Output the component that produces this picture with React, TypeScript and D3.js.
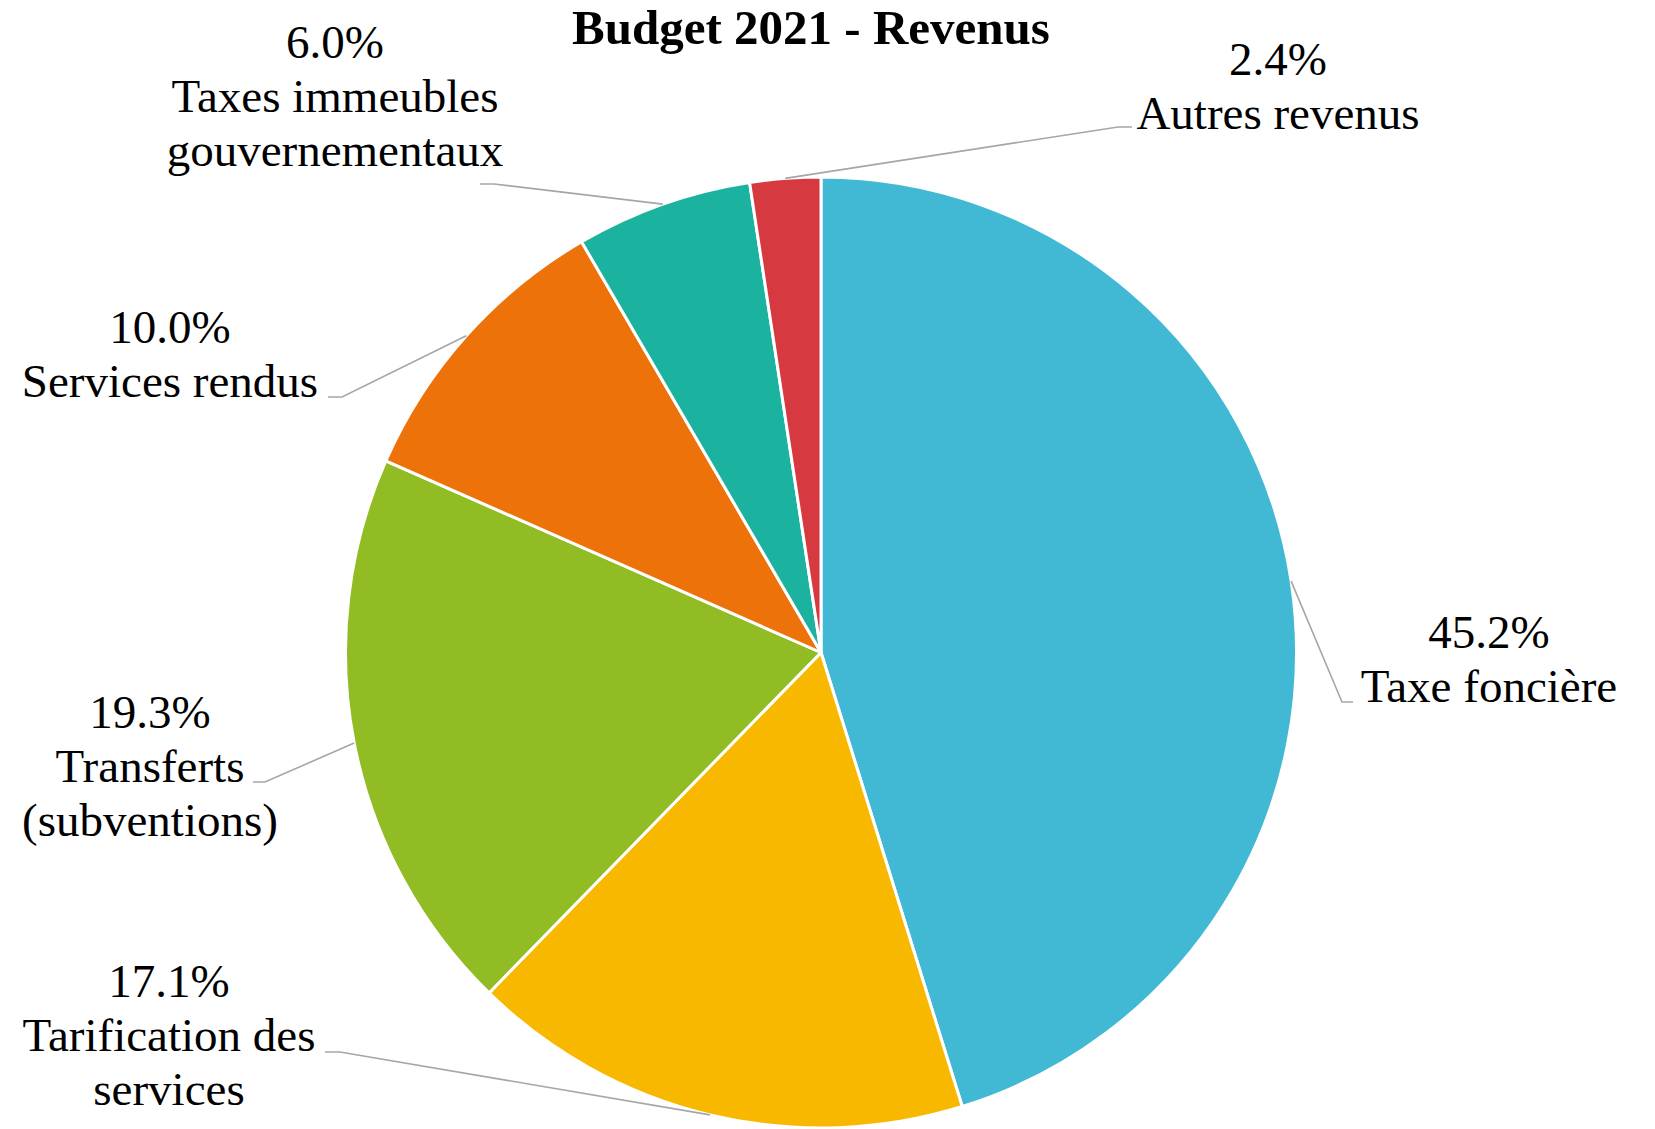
import React from "react";
import * as d3 from "d3";

const categories = [
  "Taxe foncière",
  "Tarification des services",
  "Transferts (subventions)",
  "Services rendus",
  "Taxes immeubles gouvernementaux",
  "Autres revenus",
];
const values = [45.2, 17.1, 19.3, 10.0, 6.0, 2.4];
const labelLines = [
  ["Taxe foncière"],
  ["Tarification des", "services"],
  ["Transferts", "(subventions)"],
  ["Services rendus"],
  ["Taxes immeubles", "gouvernementaux"],
  ["Autres revenus"],
];
const colors = ["#41B8D4", "#F9B800", "#91BC24", "#ED720A", "#1BB3A0", "#D63A40"];
const title = "Budget 2021 - Revenus";

// label layout: text center x, first baseline y, leader elbow x, elbow y, leader end x
const labelLayout = [
  { tx: 1489, ty: 648, ex: 1342, ey: 702, endX: 1353 },
  { tx: 169, ty: 997, ex: 340, ey: 1052, endX: 325 },
  { tx: 150, ty: 728, ex: 265, ey: 782, endX: 253 },
  { tx: 170, ty: 343, ex: 342, ey: 397, endX: 328 },
  { tx: 335, ty: 58, ex: 494, ey: 184, endX: 480 },
  { tx: 1278, ty: 75, ex: 1118, ey: 127, endX: 1132 },
];

const W = 1655;
const H = 1129;
const CX = 821;
const CY = 652.5;
const R = 475.5;
const LINE = 54;

export default function App() {
  const pie = d3.pie<number>().sort(null).value((d) => d).startAngle(0).endAngle(2 * Math.PI);
  const arcs = pie(values);
  const arcGen = d3.arc<d3.PieArcDatum<number>>().innerRadius(0).outerRadius(R);

  return (
    <svg
      width={W}
      height={H}
      style={{ position: "absolute", left: 0, top: 0, background: "#fff" }}
      fontFamily="'Liberation Serif', 'Times New Roman', serif"
    >
      <rect x={0} y={0} width={W} height={H} fill="#fff" />
      <g transform={`translate(${CX},${CY})`}>
        {arcs.map((a, i) => (
          <path key={categories[i]} d={arcGen(a) || ""} fill={colors[i]} stroke="#fff" strokeWidth={3} strokeLinejoin="round" />
        ))}
      </g>
      {arcs.map((a, i) => {
        const mid = (a.startAngle + a.endAngle) / 2;
        const sx = CX + R * Math.sin(mid);
        const sy = CY - R * Math.cos(mid);
        const L = labelLayout[i];
        return (
          <polyline
            key={"l" + i}
            points={`${sx},${sy} ${L.ex},${L.ey} ${L.endX},${L.ey}`}
            fill="none"
            stroke="#A6A6A6"
            strokeWidth={1.6}
          />
        );
      })}
      {arcs.map((a, i) => {
        const L = labelLayout[i];
        const lines = [values[i].toFixed(1) + "%", ...labelLines[i]];
        return (
          <text key={"t" + i} x={L.tx} y={L.ty} textAnchor="middle" fontSize={47} fill="#000">
            {lines.map((s, j) => (
              <tspan key={j} x={L.tx} y={L.ty + j * LINE}>
                {s}
              </tspan>
            ))}
          </text>
        );
      })}
      <text x={811} y={44} textAnchor="middle" fontSize={49} fontWeight="bold" fill="#000">
        {title}
      </text>
    </svg>
  );
}
